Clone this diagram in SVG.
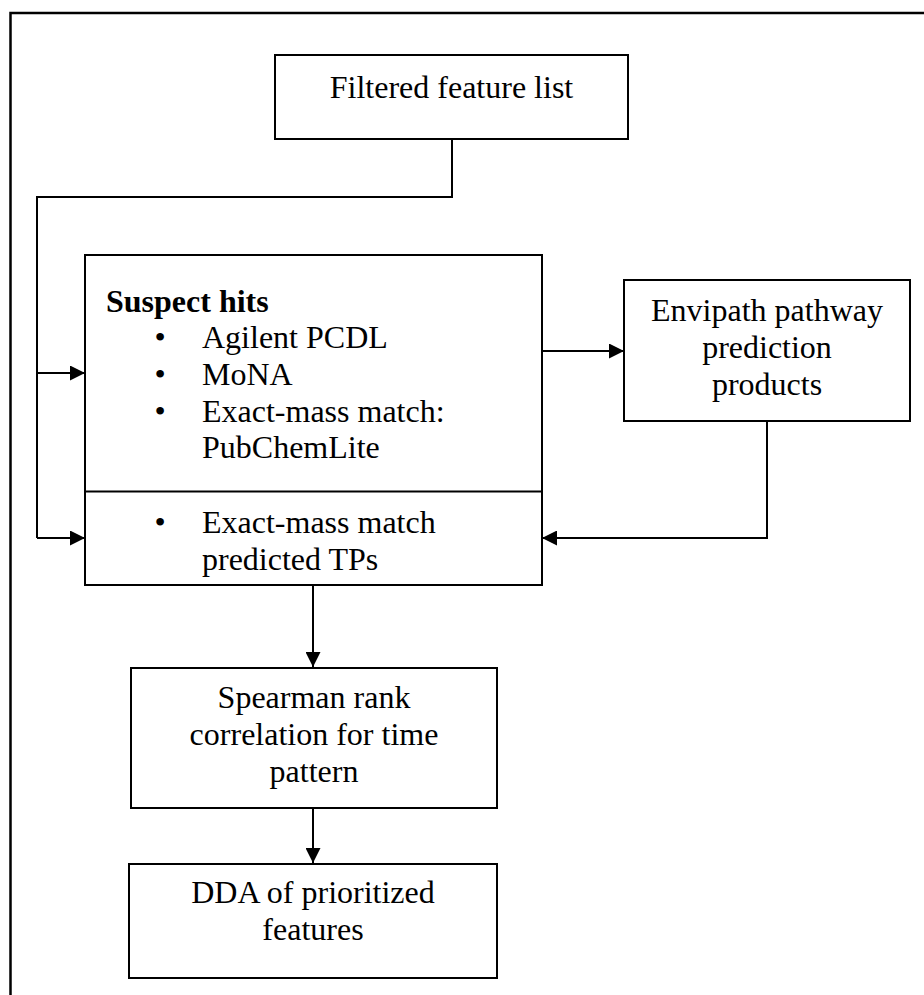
<svg xmlns="http://www.w3.org/2000/svg" width="924" height="995" viewBox="0 0 924 995">
<style>
.box{fill:#fff;stroke:#000;stroke-width:2}
.ln{fill:none;stroke:#000;stroke-width:2}
text{font-family:"Liberation Serif","Times New Roman",serif;font-size:32px;fill:#000}
.c{text-anchor:middle}
.b{font-weight:bold}
</style>
<defs>
<marker id="ah" markerWidth="15" markerHeight="15" viewBox="0 0 15 15" refX="15" refY="7.5" orient="auto" markerUnits="userSpaceOnUse">
<path d="M0,0 L15,7.5 L0,15 z" fill="#000"/>
</marker>
</defs>
<rect x="10.5" y="13" width="1000" height="1100" fill="none" stroke="#000" stroke-width="2.5"/>
<g id="filtered">
<rect class="box" x="275" y="55" width="353" height="84"/>
<text class="c" x="451.5" y="98">Filtered feature list</text>
</g>
<g id="suspect">
<rect class="box" x="85" y="255" width="457" height="330"/>
<line class="ln" x1="85" y1="491.5" x2="542" y2="491.5"/>
<text class="b" x="106" y="312">Suspect hits</text>
<text x="160" y="348" class="c">•</text><text x="202" y="348">Agilent PCDL</text>
<text x="160" y="385" class="c">•</text><text x="202" y="385">MoNA</text>
<text x="160" y="422" class="c">•</text><text x="202" y="422">Exact-mass match:</text>
<text x="202" y="458">PubChemLite</text>
<text x="160" y="533" class="c">•</text><text x="202" y="533">Exact-mass match</text>
<text x="202" y="570">predicted TPs</text>
</g>
<g id="envipath">
<rect class="box" x="624" y="280" width="286" height="141"/>
<text class="c" x="767" y="321">Envipath pathway</text>
<text class="c" x="767" y="358">prediction</text>
<text class="c" x="767" y="395">products</text>
</g>
<g id="spearman">
<rect class="box" x="131" y="668" width="366" height="140"/>
<text class="c" x="314" y="708">Spearman rank</text>
<text class="c" x="314" y="745">correlation for time</text>
<text class="c" x="314" y="782">pattern</text>
</g>
<g id="dda">
<rect class="box" x="129" y="864" width="368" height="114"/>
<text class="c" x="313" y="903">DDA of prioritized</text>
<text class="c" x="313" y="940">features</text>
</g>
<g id="connectors">
<polyline class="ln" points="452,139 452,197 37,197 37,538"/>
<line class="ln" x1="37" y1="373" x2="85" y2="373" marker-end="url(#ah)"/>
<line class="ln" x1="37" y1="538" x2="85" y2="538" marker-end="url(#ah)"/>
<line class="ln" x1="542" y1="351" x2="624" y2="351" marker-end="url(#ah)"/>
<polyline class="ln" points="767,421 767,538 542,538" marker-end="url(#ah)"/>
<line class="ln" x1="313" y1="585" x2="313" y2="667" marker-end="url(#ah)"/>
<line class="ln" x1="313" y1="808" x2="313" y2="863" marker-end="url(#ah)"/>
</g>
</svg>
